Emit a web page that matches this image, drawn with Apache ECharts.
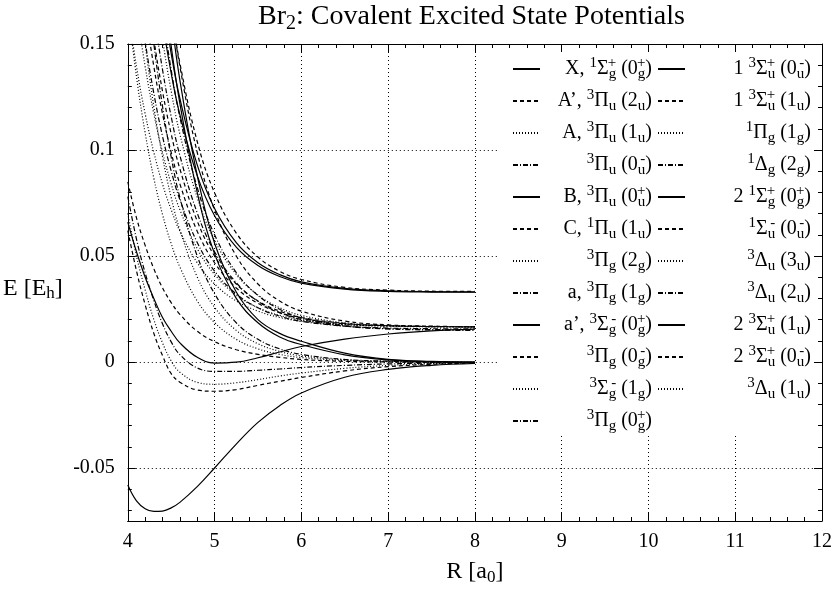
<!DOCTYPE html>
<html><head><meta charset="utf-8">
<script src="https://cdn.jsdelivr.net/npm/echarts@6/dist/echarts.min.js"></script>
<style>html,body{margin:0;padding:0;background:#fff}#c{width:835px;height:591px}</style>
</head><body><div id="c"></div>
<script>
// ---------- data ----------
const R = [4.0,4.1,4.2,4.3,4.4,4.5,4.6,4.8,5.0,5.25,5.5,5.75,6.0,6.5,7.0,7.5,8.0];

const labels = [
  'X, ^{1}Σ_{g}^{+} (0_{g}^{+})',
  'A’, ^{3}Π_{u} (2_{u})',
  'A, ^{3}Π_{u} (1_{u})',
  '^{3}Π_{u} (0_{u}^{-})',
  'B, ^{3}Π_{u} (0_{u}^{+})',
  'C, ^{1}Π_{u} (1_{u})',
  '^{3}Π_{g} (2_{g})',
  'a, ^{3}Π_{g} (1_{g})',
  'a’, ^{3}Σ_{g}^{-} (0_{g}^{+})',
  '^{3}Π_{g} (0_{g}^{-})',
  '^{3}Σ_{g}^{-} (1_{g})',
  '^{3}Π_{g} (0_{g}^{+})',
  '1 ^{3}Σ_{u}^{+} (0_{u}^{-})',
  '1 ^{3}Σ_{u}^{+} (1_{u})',
  '^{1}Π_{g} (1_{g})',
  '^{1}Δ_{g} (2_{g})',
  '2 ^{1}Σ_{g}^{+} (0_{g}^{+})',
  '^{1}Σ_{u}^{-} (0_{u}^{-})',
  '^{3}Δ_{u} (3_{u})',
  '^{3}Δ_{u} (2_{u})',
  '2 ^{3}Σ_{u}^{+} (1_{u})',
  '2 ^{3}Σ_{u}^{+} (0_{u}^{-})',
  '^{3}Δ_{u} (1_{u})'
];

const X_0gp     = [-0.058,-0.0655,-0.0692,-0.0705,-0.0703,-0.0688,-0.0662,-0.0588,-0.0500,-0.0387,-0.0285,-0.0206,-0.0146,-0.0072,-0.0035,-0.0016,-0.0007];
const Ap_2u     = [0.062,0.043,0.027,0.0135,0.003,-0.0055,-0.0095,-0.0132,-0.0138,-0.0130,-0.0110,-0.0091,-0.0073,-0.0042,-0.0022,-0.0011,-0.0005];
const A_1u      = [0.070,0.050,0.034,0.020,0.009,0.0005,-0.0048,-0.0096,-0.0105,-0.0098,-0.0083,-0.0066,-0.0052,-0.0030,-0.0016,-0.0008,-0.0004];
const Pu_0um    = [0.078,0.058,0.042,0.029,0.018,0.0095,0.0035,-0.0028,-0.0044,-0.0044,-0.0039,-0.0033,-0.0026,-0.0016,-0.0009,-0.0005,-0.0002];
const B_0up     = [0.066,0.052,0.040,0.030,0.021,0.0145,0.009,0.0022,-0.0005,-0.0001,0.0020,0.0047,0.0073,0.0108,0.0132,0.0147,0.0155];
const C_1u      = [0.085,0.068,0.055,0.044,0.035,0.028,0.0225,0.0145,0.0096,0.0058,0.0036,0.0022,0.0012,0.0003,0.0000,-0.0002,-0.0003];
const Pg_2g     = [0.2333,0.1872,0.1502,0.1205,0.0968,0.0776,0.0623,0.0401,0.0258,0.0149,0.0086,0.0050,0.0029,0.0010,0.0003,0.0001,-0.0002];
const a_1g      = [0.2906,0.2332,0.1871,0.1502,0.1206,0.0967,0.0776,0.0500,0.0322,0.0185,0.0107,0.0062,0.0036,0.0012,0.0004,0.0000,-0.0003];
const ap_0gp    = [0.40,0.33,0.27,0.222,0.182,0.149,0.122,0.080,0.0510,0.0300,0.0185,0.0118,0.0082,0.0034,0.0010,0.0002,-0.0001];
const Pg_0gm    = [0.2404,0.1999,0.1666,0.1394,0.1171,0.0989,0.0840,0.0617,0.0468,0.0349,0.0277,0.0233,0.0206,0.0180,0.0171,0.0167,0.0166];
const Sg_1g     = [0.1666,0.1394,0.1171,0.0989,0.0839,0.0718,0.0617,0.0468,0.0368,0.0288,0.0240,0.0210,0.0192,0.0175,0.0169,0.0166,0.0165];
const Pg_0gp    = [0.2885,0.239,0.1983,0.1651,0.1379,0.1157,0.0974,0.0703,0.0520,0.0374,0.0286,0.0233,0.0200,0.0169,0.0157,0.0153,0.0151];
const S1u_0um   = [0.45,0.37,0.30,0.245,0.200,0.163,0.133,0.088,0.0560,0.0330,0.0200,0.0135,0.0098,0.0042,0.0012,0.0003,0.0000];
const S1u_1u    = [0.264,0.2192,0.1824,0.1523,0.1277,0.1076,0.0911,0.0665,0.0500,0.0368,0.0288,0.0240,0.0210,0.0182,0.0171,0.0167,0.0166];
const Pig_1g    = [0.1998,0.1667,0.1394,0.1171,0.0989,0.0840,0.0718,0.0535,0.0413,0.0315,0.0256,0.0220,0.0199,0.0177,0.0170,0.0167,0.0166];
const Dg_2g     = [0.3489,0.2884,0.2388,0.1981,0.1649,0.1378,0.1155,0.0823,0.0600,0.0422,0.0314,0.0249,0.0209,0.0171,0.0156,0.0151,0.0149];
const S2g_0gp   = [0.354,0.293,0.244,0.204,0.172,0.1455,0.1243,0.093,0.0724,0.0563,0.0468,0.0412,0.0378,0.0347,0.0336,0.0332,0.0331];
const Su_0um    = [0.4245,0.3507,0.29,0.2404,0.1998,0.1667,0.1395,0.0989,0.0717,0.0500,0.0368,0.0288,0.0240,0.0193,0.0175,0.0169,0.0166];
const Du_3u     = [0.1677,0.1346,0.108,0.0867,0.0696,0.0558,0.0448,0.0288,0.0186,0.0107,0.0062,0.0036,0.0021,0.0007,0.0002,0.0000,-0.0002];
const Du_2u     = [0.2181,0.1814,0.1513,0.1267,0.1065,0.0901,0.0766,0.0564,0.0429,0.0321,0.0256,0.0216,0.0192,0.0169,0.0160,0.0157,0.0156];
const S2u_1u    = [0.328,0.272,0.227,0.190,0.1605,0.1362,0.1167,0.0879,0.0690,0.0542,0.0455,0.0403,0.0372,0.0344,0.0333,0.0330,0.0329];
const S2u_0um   = [0.413,0.341,0.283,0.235,0.198,0.166,0.141,0.104,0.0798,0.0608,0.0495,0.0428,0.0389,0.0352,0.0339,0.0334,0.0333];
const Du_1u     = [0.3188,0.2641,0.2191,0.1824,0.1523,0.1278,0.1076,0.0776,0.0574,0.0413,0.0316,0.0256,0.0220,0.0185,0.0172,0.0168,0.0166];

const curves = [X_0gp,Ap_2u,A_1u,Pu_0um,B_0up,C_1u,Pg_2g,a_1g,ap_0gp,Pg_0gm,Sg_1g,Pg_0gp,
                S1u_0um,S1u_1u,Pig_1g,Dg_2g,S2g_0gp,Su_0um,Du_3u,Du_2u,S2u_1u,S2u_0um,Du_1u];

// ---------- helpers ----------
const F = 'Liberation Serif';
function toRich(s){
  let out = '', i = 0, prevSub = false;
  while (i < s.length) {
    const c = s[i];
    if ((c === '^' || c === '_') && s[i+1] === '{') {
      const j = s.indexOf('}', i);
      const t = s.slice(i+2, j);
      if (c === '_') { out += '{sb|' + t + '}'; prevSub = true; }
      else { out += (prevSub ? '{st|' : '{sp|') + t + '}'; prevSub = false; }
      i = j + 1;
    } else {
      let j = i;
      while (j < s.length && !((s[j] === '^' || s[j] === '_') && s[j+1] === '{')) j++;
      out += '{n|' + s.slice(i, j) + '}'; prevSub = false; i = j;
    }
  }
  return out;
}
const plain = s => s.replace(/[\^_]\{([^}]*)\}/g, '$1');
const names = labels.map(plain);
const richMap = {};
labels.forEach(l => { richMap[plain(l)] = toRich(l); });

const dashTypes = ['solid', [4,3], [1,2], [5,2,1,2]];
const legendRich = {
  n:  {fontFamily: F, fontSize: 20, lineHeight: 26, verticalAlign: 'middle', align: 'right', color: '#000'},
  sp: {fontFamily: F, fontSize: 15, lineHeight: 11, verticalAlign: 'top', align: 'right', color: '#000'},
  sb: {fontFamily: F, fontSize: 15, lineHeight: 15, verticalAlign: 'bottom', align: 'right', color: '#000'},
  st: {fontFamily: F, fontSize: 15, lineHeight: 11, verticalAlign: 'top', align: 'right', width: 0, color: '#000'}
};

const series = curves.map((vals, k) => ({
  name: names[k],
  type: 'line',
  data: R.map((r, i) => [r, vals[i]]),
  symbol: 'none',
  smooth: 0.4,
  color: '#000',
  lineStyle: {color: '#000', width: 1.2, type: dashTypes[k % 4]},
  xAxisIndex: 0, yAxisIndex: 0,
  silent: true,
  z: 2
}));

const common = {min: 4, max: 12};
const chart = echarts.init(document.getElementById('c'), null, {renderer: 'canvas'});
chart.setOption({
  animation: false,
  backgroundColor: '#fff',
  color: ['#000'],
  title: {
    text: '{t|Br}{s|2}{t|: Covalent Excited State Potentials}',
    left: 258, top: 0, padding: 0,
    textStyle: {fontWeight: 'normal', rich: {
      t: {fontFamily: F, fontSize: 28, lineHeight: 34, fontWeight: 'normal', color: '#000'},
      s: {fontFamily: F, fontSize: 20, lineHeight: 15, verticalAlign: 'bottom', fontWeight: 'normal', color: '#000'}
    }}
  },
  grid: {left: 125, right: 13, top: 44, bottom: 67},
  xAxis: [
    {type: 'value', ...common, interval: 1, position: 'bottom',
     name: '{n|R [a}{s|0}{n|]}', nameLocation: 'middle', nameGap: 37,
     nameTextStyle: {rich: {
       n: {fontFamily: F, fontSize: 24, lineHeight: 28, color: '#000'},
       s: {fontFamily: F, fontSize: 17, lineHeight: 11, verticalAlign: 'bottom', color: '#000'}}},
     axisLine: {onZero: false, lineStyle: {color: '#000', width: 1}},
     axisTick: {inside: true, length: 8, lineStyle: {color: '#000'}},
     minorTick: {show: true, splitNumber: 5, length: 4, lineStyle: {color: '#000'}},
     axisLabel: {fontFamily: F, fontSize: 20, color: '#000', margin: 11},
     splitLine: {show: true, lineStyle: {color: '#000', width: 1, type: [1,3]}}},
    {type: 'value', ...common, interval: 1, position: 'top',
     axisLine: {onZero: false, lineStyle: {color: '#000', width: 1}},
     axisTick: {inside: true, length: 8, lineStyle: {color: '#000'}},
     minorTick: {show: true, splitNumber: 5, length: 4, lineStyle: {color: '#000'}},
     axisLabel: {show: false}, splitLine: {show: false}}
  ],
  yAxis: [
    {type: 'value', min: -0.075, max: 0.15, splitNumber: 5, position: 'left',
     name: '{n|E [E}{s|h}{n|]}', nameLocation: 'middle', nameRotate: 0, nameGap: 65,
     nameTextStyle: {padding: [12, 0, 0, 0], rich: {
       n: {fontFamily: F, fontSize: 24, lineHeight: 28, color: '#000'},
       s: {fontFamily: F, fontSize: 17, lineHeight: 11, verticalAlign: 'bottom', color: '#000'}}},
     axisLine: {show: true, onZero: false, lineStyle: {color: '#000', width: 1}},
     axisTick: {show: true, inside: true, length: 8, lineStyle: {color: '#000'}},
     axisLabel: {fontFamily: F, fontSize: 20, color: '#000', margin: 13,
       formatter: v => (Math.abs(v + 0.075) < 1e-9 ? '' : String(+v.toFixed(3)))},
     splitLine: {show: true, lineStyle: {color: '#000', width: 1, type: [1,3]}}},
    {type: 'value', min: -0.075, max: 0.15, splitNumber: 22, position: 'left',
     axisLine: {show: false, onZero: false}, axisTick: {show: true, inside: true, length: 4, lineStyle: {color: '#000'}},
     axisLabel: {show: false}, splitLine: {show: false}},
    {type: 'value', min: -0.075, max: 0.15, splitNumber: 5, position: 'right',
     axisLine: {show: true, onZero: false, lineStyle: {color: '#000', width: 1}},
     axisTick: {show: true, inside: true, length: 8, lineStyle: {color: '#000'}},
     axisLabel: {show: false}, splitLine: {show: false}},
    {type: 'value', min: -0.075, max: 0.15, splitNumber: 22, position: 'right',
     axisLine: {show: false, onZero: false}, axisTick: {show: true, inside: true, length: 4, lineStyle: {color: '#000'}},
     axisLabel: {show: false}, splitLine: {show: false}}
  ],
  legend: [
    {data: names.slice(0, 12), orient: 'vertical', left: 497, top: 52,
     padding: [4, 4, 0, 15], itemGap: 6, itemWidth: 27, itemHeight: 14,
     backgroundColor: '#fff', selectedMode: false,
     itemStyle: {opacity: 0},
     formatter: n => richMap[n],
     textStyle: {width: 107, fontFamily: F, fontSize: 20, color: '#000', rich: legendRich}},
    {data: names.slice(12), orient: 'vertical', left: 655, top: 52,
     padding: [4, 2, 32, 2], itemGap: 6, itemWidth: 27, itemHeight: 14,
     backgroundColor: '#fff', selectedMode: false,
     itemStyle: {opacity: 0},
     formatter: n => richMap[n],
     textStyle: {width: 121, fontFamily: F, fontSize: 20, color: '#000', rich: legendRich}}
  ],
  series: series
});
</script></body></html>
